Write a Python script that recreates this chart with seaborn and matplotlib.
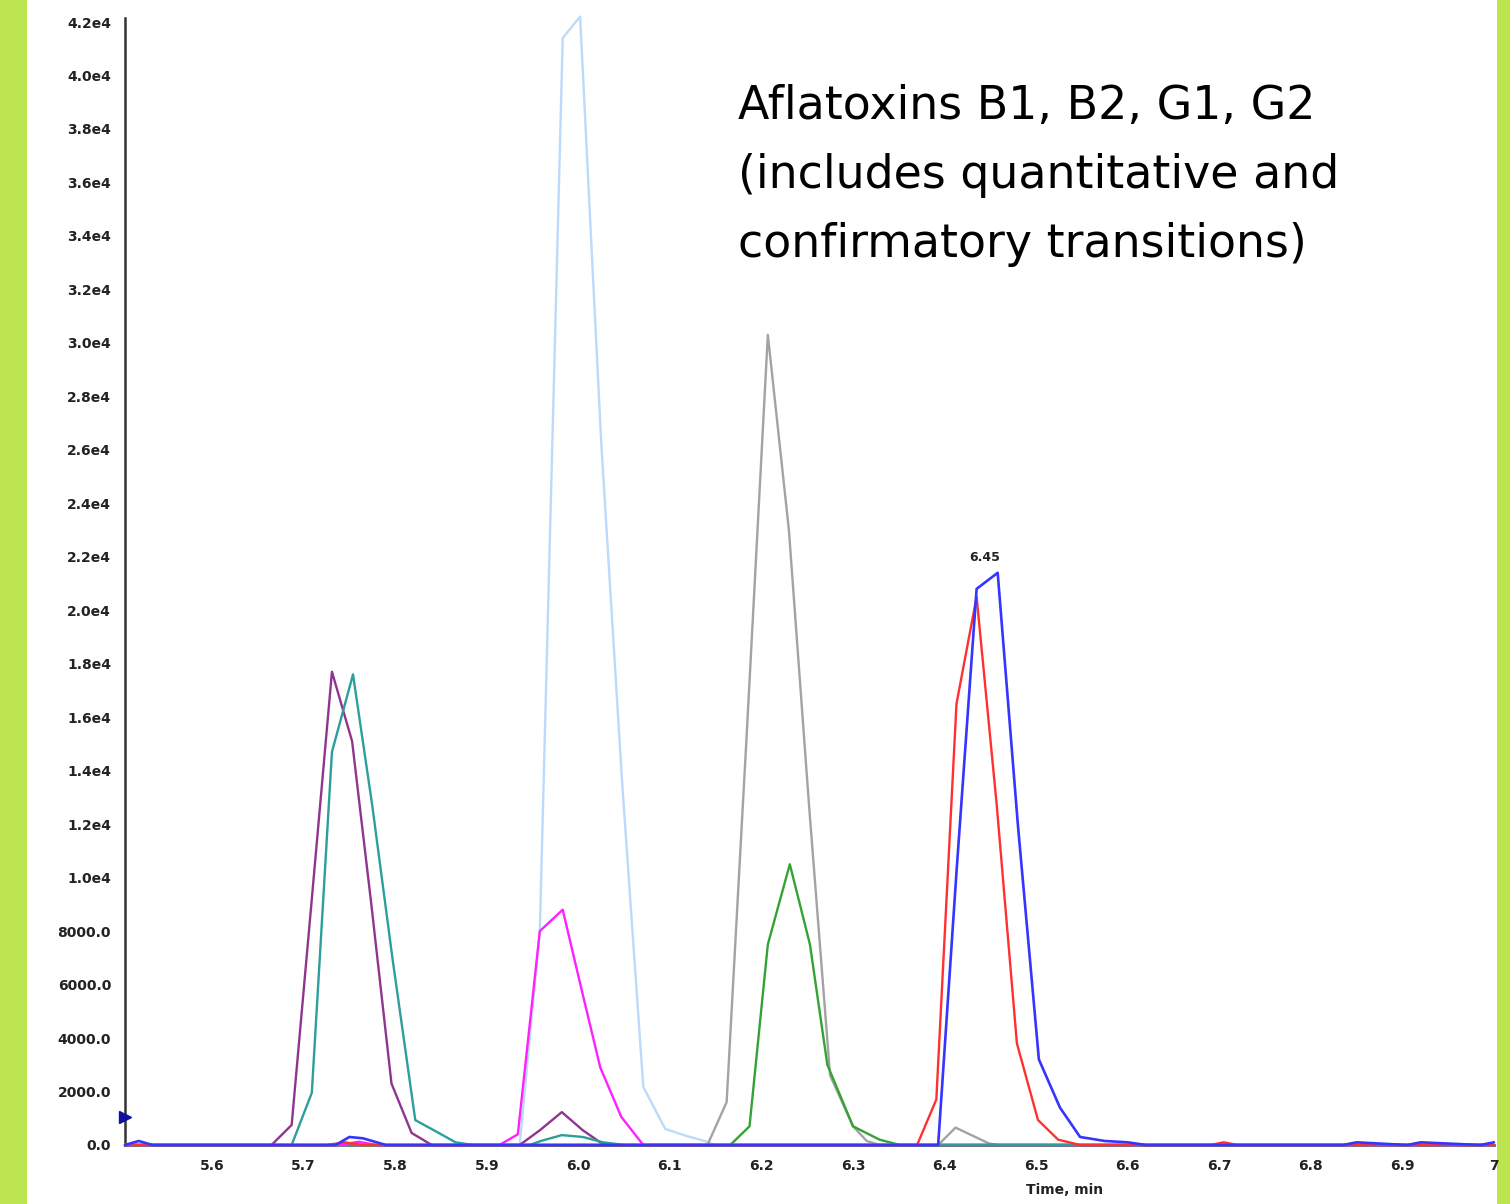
import numpy as np
import pandas as pd
import seaborn as sns
import matplotlib.pyplot as plt
from matplotlib.patches import Rectangle
from matplotlib.ticker import FuncFormatter, MultipleLocator

# retention time (min) / intensity (cps)
purple_t = [5.505, 5.665, 5.687, 5.709, 5.731, 5.753, 5.774, 5.796, 5.818, 5.840,
            5.936, 5.958, 5.982, 6.005, 6.024, 6.035, 7.0]
purple_v = [0, 0, 750, 9200, 17700, 15100, 9000, 2300, 450, 0,
            0, 550, 1230, 550, 100, 0, 0]

teal_t = [5.505, 5.687, 5.709, 5.731, 5.754, 5.775, 5.797, 5.822, 5.845, 5.866, 5.885,
          5.947, 5.959, 5.982, 6.005, 6.027, 6.051, 7.0]
teal_v = [0, 0, 1950, 14700, 17600, 12700, 7000, 930, 500, 100, 0,
          0, 150, 370, 300, 100, 0, 0]

lightblue_t = [5.505, 5.936, 5.958, 5.983, 6.002, 6.025, 6.048, 6.071, 6.095, 6.117, 6.138, 6.149, 7.0]
lightblue_v = [0, 0, 8000, 41400, 42200, 26300, 13500, 2170, 600, 350, 150, 0, 0]

magenta_t = [5.505, 5.740, 5.760, 5.780, 5.914, 5.934, 5.958, 5.983, 6.003, 6.024, 6.047, 6.071, 7.0]
magenta_v = [0, 0, 120, 0, 0, 400, 8000, 8800, 5900, 2900, 1050, 0, 0]

grey_t = [5.505, 6.141, 6.162, 6.184, 6.207, 6.230, 6.252, 6.275, 6.300, 6.315, 6.329,
          6.393, 6.412, 6.449, 6.460, 7.0]
grey_v = [0, 0, 1600, 15400, 30300, 23000, 12700, 2600, 700, 150, 0,
          0, 650, 50, 0, 0]

green_t = [5.505, 6.166, 6.187, 6.207, 6.231, 6.253, 6.272, 6.300, 6.329, 6.351, 7.0]
green_v = [0, 0, 700, 7500, 10500, 7500, 3000, 700, 200, 0, 0]

red_t = [5.505, 5.725, 5.745, 5.765, 6.370, 6.391, 6.413, 6.435, 6.457, 6.479, 6.502,
         6.524, 6.548, 6.690, 6.705, 6.720, 7.0]
red_v = [0, 0, 100, 0, 0, 1700, 16500, 20500, 12700, 3800, 935,
         200, 0, 0, 100, 0, 0]

blue_t = [5.505, 5.520, 5.535, 5.735, 5.750, 5.765, 5.790, 6.393, 6.413, 6.435, 6.458,
          6.480, 6.503, 6.526, 6.548, 6.575, 6.600, 6.620, 6.835, 6.850, 6.905, 6.920, 6.985, 7.0]
blue_v = [0, 150, 0, 0, 300, 250, 0, 0, 10200, 20800, 21400,
          12000, 3200, 1400, 300, 150, 100, 0, 0, 100, 0, 100, 0, 100]

series = {
    "lightblue": (lightblue_t, lightblue_v),
    "grey": (grey_t, grey_v),
    "green": (green_t, green_v),
    "magenta": (magenta_t, magenta_v),
    "purple": (purple_t, purple_v),
    "teal": (teal_t, teal_v),
    "red": (red_t, red_v),
    "blue": (blue_t, blue_v),
}
colors = {
    "lightblue": "#bcdaf9",
    "grey": "#a3a3a3",
    "green": "#35a235",
    "magenta": "#ff20ff",
    "purple": "#8e3590",
    "teal": "#2c9e9b",
    "red": "#ff3030",
    "blue": "#3535ff",
}

peak_label = "6.45"
peak_time = 6.458
peak_value = 21400
marker_level = 1050

x_ticks = [5.6, 5.7, 5.8, 5.9, 6.0, 6.1, 6.2, 6.3, 6.4, 6.5, 6.6, 6.7, 6.8, 6.9, 7.0]
x_tick_labels = ["5.6", "5.7", "5.8", "5.9", "6.0", "6.1", "6.2", "6.3", "6.4",
                 "6.5", "6.6", "6.7", "6.8", "6.9", "7"]

rows = []
for name, (ts, vs) in series.items():
    for t, v in zip(ts, vs):
        rows.append({"trace": name, "time": t, "intensity": v})
df = pd.DataFrame(rows)

sns.set_style("white")
plt.rcParams["font.family"] = ["DejaVu Sans"]

fig = plt.figure(figsize=(15.1, 12.04), dpi=100, facecolor="#bde54f")
fig.patches.append(Rectangle((27 / 1510, 0), (1497 - 27) / 1510, 1,
                             transform=fig.transFigure, facecolor="white",
                             edgecolor="none", zorder=-10))
ax = fig.add_axes([125 / 1510, 1 - 1145 / 1204, (1494 - 125) / 1510, (1145 - 18) / 1204])
ax.set_facecolor("none")
ax.set_zorder(5)

sns.lineplot(data=df, x="time", y="intensity", hue="trace", hue_order=list(series),
             palette=colors, estimator=None, sort=False, legend=False,
             linewidth=1.7, ax=ax)
# traces sit over the axis line, as in the instrument software
for line in ax.lines:
    line.set_clip_on(False)
    line.set_zorder(3)
ax.lines[-1].set_linewidth(1.9)

ax.set_xlim(5.505, 7.0)
ax.set_ylim(0, 42150)

for side in ["top", "right"]:
    ax.spines[side].set_visible(False)
for side in ["left", "bottom"]:
    ax.spines[side].set_linewidth(1.8)
    ax.spines[side].set_color("#333333")

ax.set_xticks(x_ticks)
ax.set_xticklabels(x_tick_labels)
ax.xaxis.set_minor_locator(MultipleLocator(0.05))
ax.yaxis.set_major_locator(MultipleLocator(2000))
ax.yaxis.set_minor_locator(MultipleLocator(1000))


def fmt_y(v, pos):
    if v >= 10000:
        return f"{v / 1e4:.1f}e4"
    return f"{v:.1f}"


ax.yaxis.set_major_formatter(FuncFormatter(fmt_y))
ax.tick_params(axis="both", which="major", direction="out", length=6, width=1.5,
               color="#333333", labelsize=10, labelcolor="#222222", pad=4)
ax.tick_params(axis="both", which="minor", direction="out", length=3, width=1.2,
               color="#333333")
for lab in ax.get_xticklabels() + ax.get_yticklabels():
    lab.set_fontweight("bold")

ax.set_xlabel("Time, min", fontsize=10, fontweight="bold", color="#222222")
ax.xaxis.set_label_coords((1065 - 125) / (1494 - 125), -0.034)
ax.set_ylabel("")

ax.annotate(peak_label, xy=(peak_time, peak_value), xytext=(-9, 6),
            textcoords="offset points", ha="center", va="bottom",
            fontsize=9, fontweight="bold", color="#222222")

ax.plot([5.505], [marker_level], marker=">", color="#1010a0", markersize=9,
        clip_on=False, linestyle="none", zorder=5)

fig.text(738 / 1510, 1 - 84 / 1204,
         "Aflatoxins B1, B2, G1, G2\n(includes quantitative and\nconfirmatory transitions)",
         fontsize=33, color="black", ha="left", va="top", linespacing=1.68)

fig.savefig("out.png", dpi=100, facecolor=fig.get_facecolor())
